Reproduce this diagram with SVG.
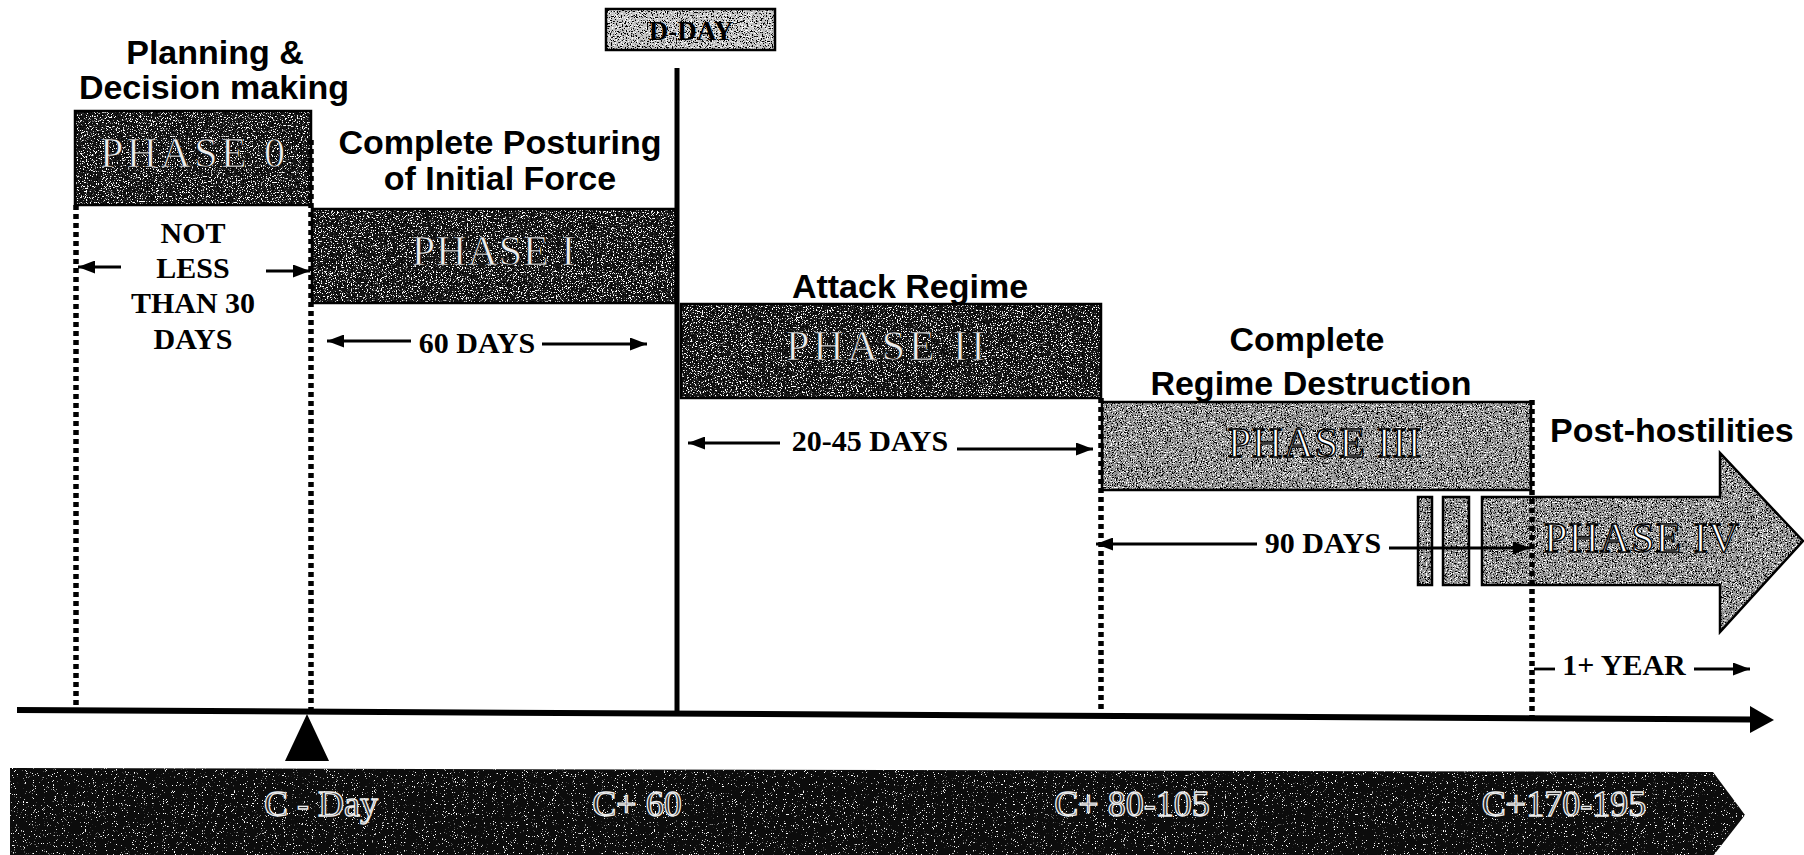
<svg xmlns="http://www.w3.org/2000/svg" width="1804" height="855" viewBox="0 0 1804 855">
<defs>
<style>
.ttl{font-family:"Liberation Sans",Arial,sans-serif;font-weight:bold;font-size:34px;fill:#000;text-anchor:middle}
.ph{font-family:"Liberation Serif","Times New Roman",serif;font-size:42px;fill:#ececec;stroke:#000;stroke-width:0.7;text-anchor:middle;letter-spacing:1px}
.phl{font-family:"Liberation Serif","Times New Roman",serif;font-size:42px;fill:#fff;stroke:#000;stroke-width:1.4;text-anchor:middle;letter-spacing:1px}
.dim{font-family:"Liberation Serif","Times New Roman",serif;font-weight:bold;font-size:30px;fill:#000;text-anchor:middle}
.ban{font-family:"Liberation Serif","Times New Roman",serif;font-size:36px;fill:#262626;stroke:#ededed;stroke-width:1.3;text-anchor:middle}
.dot{stroke:#000;stroke-width:5.5;stroke-dasharray:5 4;fill:none}
.dl{stroke:#000;stroke-width:2.8;fill:none;marker-end:url(#ah)}
.bd{fill:none;stroke:#000;stroke-width:2.5}
.dk{fill:#161616;filter:url(#spk)}
.lt{fill:#959595;filter:url(#spk)}
</style>
<filter id="spk" x="0" y="0" width="1" height="1" color-interpolation-filters="sRGB">
<feTurbulence type="fractalNoise" baseFrequency="0.8" numOctaves="2" seed="5" result="n"/>
<feColorMatrix in="n" type="matrix" values="0 0 0 0 1  0 0 0 0 1  0 0 0 0 1  14 0 0 0 -8" result="w"/>
<feColorMatrix in="n" type="matrix" values="0 0 0 0 0  0 0 0 0 0  0 0 0 0 0  0 14 0 0 -8" result="k"/>
<feComposite in="w" in2="SourceAlpha" operator="in" result="w2"/>
<feComposite in="k" in2="SourceAlpha" operator="in" result="k2"/>
<feMerge><feMergeNode in="SourceGraphic"/><feMergeNode in="w2"/><feMergeNode in="k2"/></feMerge>
</filter>
<filter id="spk2" x="0" y="0" width="1" height="1" color-interpolation-filters="sRGB">
<feTurbulence type="fractalNoise" baseFrequency="0.9" numOctaves="2" seed="9" result="n"/>
<feColorMatrix in="n" type="matrix" values="0 0 0 0 1  0 0 0 0 1  0 0 0 0 1  14 0 0 0 -9.3" result="w"/>
<feComposite in="w" in2="SourceAlpha" operator="in" result="w2"/>
<feMerge><feMergeNode in="SourceGraphic"/><feMergeNode in="w2"/></feMerge>
</filter>
<marker id="ah" markerUnits="userSpaceOnUse" markerWidth="17" markerHeight="13" refX="17" refY="6.5" orient="auto">
<path d="M0,0 L17,6.5 L0,13 z" fill="#000"/>
</marker>
</defs>
<rect width="1804" height="855" fill="#fff"/>

<g id="dday">
<rect x="606" y="9" width="169" height="41" fill="#c4c4c4" filter="url(#spk)"/>
<rect class="bd" x="606" y="9" width="169" height="41"/>
<text x="691" y="40" font-family="'Liberation Serif','Times New Roman',serif" font-weight="bold" font-size="27" text-anchor="middle" fill="#000">D-DAY</text>
</g>

<g id="phase0">
<rect class="dk" x="75" y="111" width="236" height="94"/>
<rect class="bd" x="75" y="111" width="236" height="94"/>
<text class="ph" x="193" y="167" textLength="186" lengthAdjust="spacing">PHASE 0</text>
</g>

<g id="phase1">
<rect class="dk" x="312" y="209" width="364" height="94"/>
<rect class="bd" x="312" y="209" width="364" height="94"/>
<text class="ph" x="494" y="265">PHASE I</text>
</g>

<g id="phase2">
<rect class="dk" x="681" y="304" width="420" height="94"/>
<rect class="bd" x="681" y="304" width="420" height="94"/>
<text class="ph" x="886" y="360" textLength="200" lengthAdjust="spacing">PHASE II</text>
</g>

<g id="phase3">
<rect class="lt" x="1102" y="402" width="429" height="88"/>
<rect class="bd" x="1102" y="402" width="429" height="88"/>
<text class="phl" x="1325" y="457">PHASE III</text>
</g>

<g id="phase4">
<rect class="lt" x="1418" y="497" width="14" height="88"/>
<rect class="bd" x="1418" y="497" width="14" height="88"/>
<rect class="lt" x="1443" y="497" width="26" height="88"/>
<rect class="bd" x="1443" y="497" width="26" height="88"/>
<polygon class="lt" points="1482,497 1720,497 1720,453 1803,541 1720,632 1720,585 1482,585"/>
<polygon class="bd" points="1482,497 1720,497 1720,453 1803,541 1720,632 1720,585 1482,585"/>
<text class="phl" x="1642" y="552">PHASE IV</text>
</g>

<g id="cday-marker">
<polygon points="307,714 329,761 285,761" fill="#000"/>
</g>

<g id="timeline-bar">
<polygon points="10,768 1713,772 1745,815 1713,856 10,856" fill="#0c0c0c" filter="url(#spk2)"/>
<text class="ban" x="321" y="816">C - Day</text>
<text class="ban" x="637" y="816">C+ 60</text>
<text class="ban" x="1132" y="816">C+ 80-105</text>
<text class="ban" x="1564" y="816">C+170-195</text>
</g>

<g id="connectors">
<line class="dot" x1="76" y1="205" x2="76" y2="710"/>
<line class="dot" x1="311" y1="140" x2="311" y2="712"/>
<line class="dot" x1="1101" y1="398" x2="1101" y2="716"/>
<line class="dot" x1="1532" y1="400" x2="1532" y2="719"/>
<line x1="677" y1="68" x2="677" y2="714" stroke="#000" stroke-width="5"/>
<line x1="17" y1="710" x2="1752" y2="719.5" stroke="#000" stroke-width="6"/>
<polygon points="1750,706 1774,720 1750,733" fill="#000"/>
<line class="dl" x1="121" y1="267" x2="78" y2="267"/>
<line class="dl" x1="266" y1="271" x2="310" y2="271"/>
<line class="dl" x1="411" y1="341" x2="327" y2="341"/>
<line class="dl" x1="542" y1="344" x2="647" y2="344"/>
<line class="dl" x1="780" y1="443" x2="688" y2="443"/>
<line class="dl" x1="957" y1="449" x2="1093" y2="449"/>
<line class="dl" x1="1257" y1="544" x2="1096" y2="544"/>
<line class="dl" x1="1389" y1="548" x2="1530" y2="548"/>
<line x1="1534" y1="669" x2="1555" y2="669" stroke="#000" stroke-width="2.8"/>
<line class="dl" x1="1694" y1="669" x2="1750" y2="669"/>
</g>

<g id="labels">
<text class="ttl" x="215" y="64">Planning &amp;</text>
<text class="ttl" x="214" y="99">Decision making</text>
<text class="ttl" x="500" y="154">Complete Posturing</text>
<text class="ttl" x="500" y="190">of Initial Force</text>
<text class="ttl" x="910" y="298">Attack Regime</text>
<text class="ttl" x="1307" y="351">Complete</text>
<text class="ttl" x="1311" y="395">Regime Destruction</text>
<text class="ttl" x="1550" y="442" style="text-anchor:start">Post-hostilities</text>
<text class="dim" x="193" y="243">NOT</text>
<text class="dim" x="193" y="278">LESS</text>
<text class="dim" x="193" y="313">THAN 30</text>
<text class="dim" x="193" y="349">DAYS</text>
<text class="dim" x="477" y="353">60 DAYS</text>
<text class="dim" x="870" y="451">20-45 DAYS</text>
<text class="dim" x="1323" y="553">90 DAYS</text>
<text class="dim" x="1624" y="675">1+ YEAR</text>
</g>
</svg>
